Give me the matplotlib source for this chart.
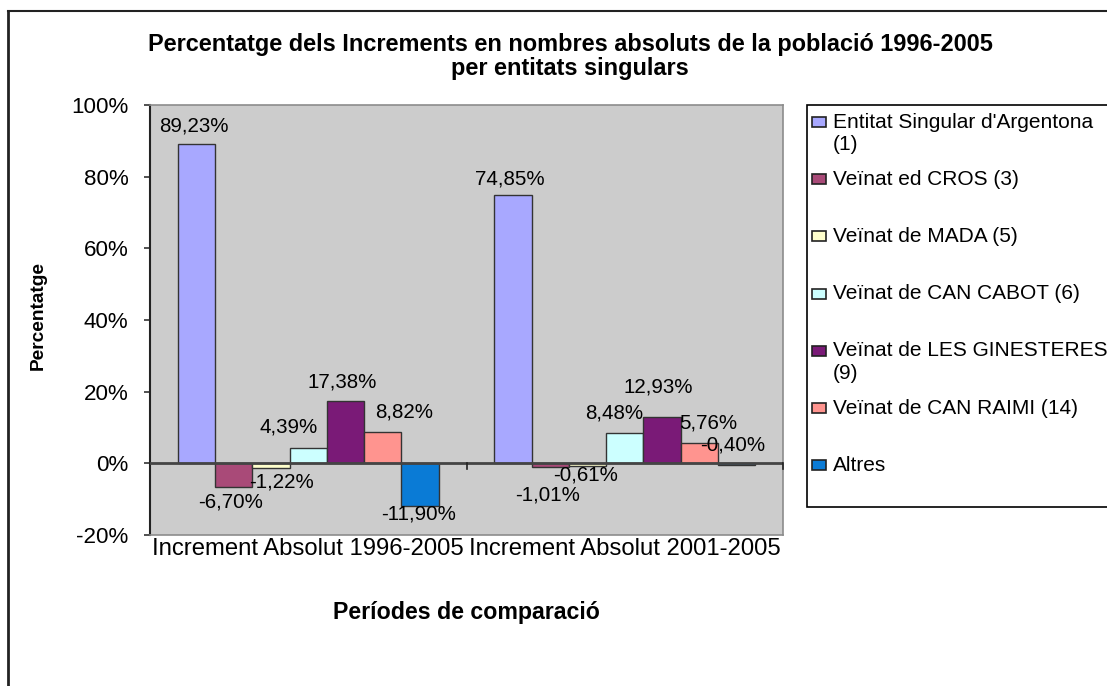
import matplotlib
matplotlib.use("Agg")
import matplotlib.pyplot as plt
from matplotlib.patches import Rectangle
from matplotlib.lines import Line2D
import numpy as np

# ---------------- data ----------------
categories = ["Increment Absolut 1996-2005", "Increment Absolut 2001-2005"]
series_names = [
    "Entitat Singular d'Argentona\n(1)",
    "Veïnat ed CROS (3)",
    "Veïnat de MADA (5)",
    "Veïnat de CAN CABOT (6)",
    "Veïnat de LES GINESTERES\n(9)",
    "Veïnat de CAN RAIMI (14)",
    "Altres",
]
argentona = [89.23, 74.85]
cros = [-6.70, -1.01]
mada = [-1.22, -0.61]
can_cabot = [4.39, 8.48]
ginesteres = [17.38, 12.93]
can_raimi = [8.82, 5.76]
altres = [-11.90, -0.40]
series_values = [argentona, cros, mada, can_cabot, ginesteres, can_raimi, altres]
y_ticks = [-20, 0, 20, 40, 60, 80, 100]

# ---------------- style ----------------
colors = ["#A8A8FF", "#A94A78", "#FFFFCC", "#CCFFFF", "#7A1A77", "#FF948F", "#0A7BD6"]
# label offsets in pixels (dx, dy) for [series][category], as placed in the original
label_offsets = [
    [(-3, 18), (-3, 16)],
    [(-3, -15), (-3, -28)],
    [(11, -14), (-2, -9)],
    [(-20, 21), (-11, 20)],
    [(-3, 19), (-4, 30)],
    [(21, 20), (9, 20)],
    [(-1, -8), (-4, 20)],
]

W, H = 1107, 686
FONT = "Liberation Sans"
plt.rcParams["font.family"] = [FONT, "DejaVu Sans"]

fig = plt.figure(figsize=(W / 100, H / 100), dpi=100)
fig.patch.set_facecolor("white")


def fx(x):
    return x / W


def fy(y):
    return 1 - y / H


# plot area
left, right, top, bottom = 150, 783, 105, 535
ax = fig.add_axes([fx(left), fy(bottom), fx(right - left), (bottom - top) / H])
ax.set_facecolor("#CCCCCC")

n = len(series_values)
bw = 0.1177
x = np.arange(len(categories))
for i, (vals, col) in enumerate(zip(series_values, colors)):
    xs = x + (i - (n - 1) / 2) * bw
    ax.bar(xs, vals, width=bw, color=col, edgecolor="#333333", linewidth=1.0, zorder=2)
    for j, v in enumerate(vals):
        dx, dy = label_offsets[i][j]
        ax.annotate(f"{v:.2f}%".replace(".", ","), xy=(xs[j], v), xytext=(dx, dy),
                    textcoords="offset pixels", ha="center", va="center",
                    fontsize=14.8, color="black", zorder=5)

ax.set_xlim(-0.5, len(categories) - 0.5)
ax.set_ylim(min(y_ticks), max(y_ticks))
ax.set_yticks(y_ticks)
ax.set_yticklabels([f"{t}%" for t in y_ticks], fontsize=16.1)
ax.tick_params(axis="y", direction="out", length=4, width=1.2, pad=11.5, color="#333333")
ax.set_xticks(x)
ax.set_xticklabels(categories, fontsize=17.2)
ax.tick_params(axis="x", length=0, pad=2)

for s in ["top", "right", "bottom"]:
    ax.spines[s].set_color("#8C8C8C")
    ax.spines[s].set_linewidth(1.2)
ax.spines["left"].set_color("#222222")
ax.spines["left"].set_linewidth(1.5)

# category axis at zero
ax.axhline(0, color="#444444", linewidth=2, zorder=3)
for b in np.arange(-0.5, len(categories), 1.0)[1:]:
    ax.plot([b, b], [0, -1.5], color="#222222", linewidth=1.2, zorder=3, clip_on=False)

# titles
fig.text(fx(570), fy(44), "Percentatge dels Increments en nombres absoluts de la població 1996-2005",
         ha="center", va="center", fontsize=16.9, fontweight="bold")
fig.text(fx(570), fy(68), "per entitats singulars", ha="center", va="center",
         fontsize=16.9, fontweight="bold")
fig.text(fx(38), fy(316), "Percentatge", rotation=90, ha="center", va="center",
         fontsize=13.8, fontweight="bold")
fig.text(fx(466), fy(613), "Períodes de comparació", ha="center", va="center",
         fontsize=16.7, fontweight="bold")

# legend box
fig.patches.append(Rectangle((fx(807), fy(507)), fx(W + 10 - 807), (507 - 105) / H,
                             transform=fig.transFigure, facecolor="white",
                             edgecolor="black", linewidth=1.2, zorder=1))
y0, step, line_h = 122, 57.2, 23
for k, (name, col) in enumerate(zip(series_names, colors)):
    yc = y0 + k * step
    fig.patches.append(Rectangle((fx(812), fy(yc + 5)), fx(14), 10 / H,
                                 transform=fig.transFigure, facecolor=col,
                                 edgecolor="#222222", linewidth=1.2, zorder=2))
    for m, line in enumerate(name.split("\n")):
        fig.text(fx(833), fy(yc + m * line_h), line, ha="left", va="center",
                 fontsize=15.0, zorder=3)

# outer chart border
fig.add_artist(Line2D([fx(8), fx(8)], [fy(11), 0], transform=fig.transFigure,
                      color="#222222", linewidth=2))
fig.add_artist(Line2D([fx(8), 1], [fy(11), fy(11)], transform=fig.transFigure,
                      color="#222222", linewidth=1.5))

fig.savefig("out.png", dpi=100)
